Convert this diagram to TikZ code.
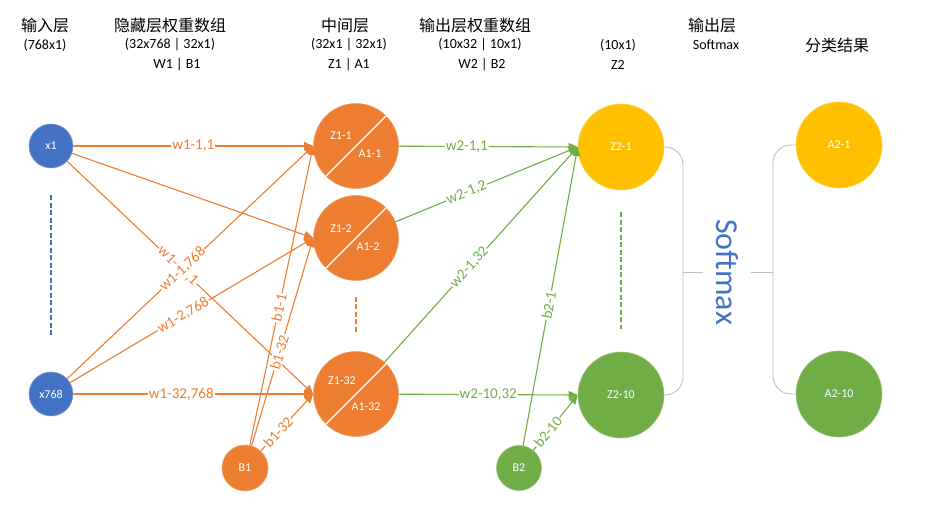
\documentclass[tikz,border=0pt]{standalone}
\usepackage{fontspec}
\setmainfont{Carlito}
\newfontfamily\cjk{Noto Sans CJK SC}
\usetikzlibrary{arrows.meta}
\definecolor{cblue}{HTML}{4472C4}
\definecolor{corange}{HTML}{ED7D31}
\definecolor{cgreen}{HTML}{70AD47}
\definecolor{cyellow}{HTML}{FFC000}
\definecolor{cgray}{HTML}{BFBFBF}
\tikzset{
  neuron/.style={circle, inner sep=0pt, text=white, line width=0.6pt, font=\fontsize{12}{12}\selectfont},
  kinput/.style={neuron, fill=cblue, draw=cblue!70!white, minimum size=44pt},
  khidden/.style={neuron, fill=corange, draw=corange!70!white, minimum size=85pt},
  kbias/.style={neuron, fill=corange, draw=corange!70!white, minimum size=46pt},
  kbiastwo/.style={neuron, fill=cgreen, draw=cgreen!70!white, minimum size=45pt},
  koutone/.style={neuron, fill=cyellow, draw=cyellow!70!white, minimum size=86pt},
  kouttwo/.style={neuron, fill=cgreen, draw=cgreen!70!white, minimum size=86pt},
  ntext/.style={text=white, inner sep=0pt, font=\fontsize{12}{12}\selectfont},
  hdr/.style={inner sep=0pt, font=\fontsize{14}{14}\selectfont},
  hcn/.style={inner sep=0pt, font=\cjk\fontsize{16}{16}\selectfont},
  oflow/.style={-{Triangle[length=9pt,width=8pt]}, line width=1.1pt, draw=corange},
  gflow/.style={-{Triangle[length=9pt,width=8pt]}, line width=1.1pt, draw=cgreen},
  wlab/.style={sloped, fill=white, inner sep=1pt, font=\fontsize{15}{15}\selectfont},
  olab/.style={wlab, text=corange}, glab/.style={wlab, text=cgreen},
  dots/.style={line width=1.3pt, dash pattern=on 5pt off 2.5pt},
  gline/.style={draw=cgray, line width=0.9pt},
}
\begin{document}
\begin{tikzpicture}[x=1pt, y=1pt]
  \useasboundingbox (0,0) rectangle (935,517);
  % headers
  \node[hcn] (t1a) at (45,492) {输入层};
  \node[hdr] (t1b) at (45,472) {(768x1)};
  \node[hcn] (t2a) at (170,492) {隐藏层权重数组};
  \node[hdr] (t2b) at (170,472) {(32x768 | 32x1)};
  \node[hdr] (t2c) at (177,452) {W1 | B1};
  \node[hcn] (t3a) at (345,492) {中间层};
  \node[hdr] (t3b) at (349,472) {(32x1 | 32x1)};
  \node[hdr] (t3c) at (349,452) {Z1 | A1};
  \node[hcn] (t4a) at (475,492) {输出层权重数组};
  \node[hdr] (t4b) at (480,472) {(10x32 | 10x1)};
  \node[hdr] (t4c) at (482,452) {W2 | B2};
  \node[hdr] (t5b) at (618,472) {(10x1)};
  \node[hdr] (t5c) at (618,452) {Z2};
  \node[hcn] (t6a) at (712,492) {输出层};
  \node[hdr] (t6b) at (716,472) {Softmax};
  \node[hcn] (t7b) at (837,472) {分类结果};
  % nodes
  \node[kinput] (x1) at (51,371) {x1};
  \node[kinput] (x768) at (51,123) {x768};
  \node[khidden] (h1) at (356,371) {};
  \node[khidden] (h2) at (356,279) {};
  \node[khidden] (h32) at (356,123) {};
  \node[kbias] (b1) at (245,49) {B1};
  \node[koutone] (z1) at (621,370) {Z2-1};
  \node[kouttwo] (z10) at (621,122) {Z2-10};
  \node[kbiastwo] (b2) at (519,49) {B2};
  \node[koutone] (a1) at (839,372) {A2-1};
  \node[kouttwo] (a10) at (839,123) {A2-10};
  \node[text=cblue, rotate=-90, inner sep=13pt, font=\fontsize{32}{32}\selectfont] (sm) at (727,245) {Softmax};
  \foreach \n in {h1,h2,h32}
    \draw[white, line width=1.2pt] (\n.225) -- (\n.45);
  \node[ntext] (h1z) at ([shift={(-15,10)}]h1) {Z1-1};
  \node[ntext] (h1a) at ([shift={(14,-8)}]h1) {A1-1};
  \node[ntext] (h2z) at ([shift={(-15,9)}]h2) {Z1-2};
  \node[ntext] (h2a) at ([shift={(12,-9)}]h2) {A1-2};
  \node[ntext] (h32z) at ([shift={(-14,13)}]h32) {Z1-32};
  \node[ntext] (h32a) at ([shift={(10,-13)}]h32) {A1-32};
  % dashed gaps
  \draw[dots, cblue, shorten <=27pt, shorten >=37pt] (x1) -- (x768);
  \draw[dots, corange, shorten <=16pt, shorten >=18pt] (h2) -- (h32);
  \draw[dots, cgreen, shorten <=22pt, shorten >=23pt] (z1) -- (z10);
  % input -> hidden
  \draw[oflow] (x1) -- (h1.west) node[olab, pos=0.5] (w11) {w1-1,1};
  \draw[oflow] (x1) -- (h2.west);
  \draw[oflow] (x1) -- (h32.west) node[olab, pos=0.45] (w321) {w1-32,1};
  \draw[oflow] (x768) -- (h1.west) node[olab, pos=0.47] (w1768) {w1-1,768};
  \draw[oflow] (x768) -- (h2.west) node[olab, pos=0.465] (w2768) {w1-2,768};
  \draw[oflow] (x768) -- (h32.west) node[olab, pos=0.45] (w32768) {w1-32,768};
  \draw[oflow] (b1) -- (h1.west) node[olab, pos=0.46] (c11) {b1-1};
  \draw[oflow] (b1) -- (h2.west) node[olab, pos=0.45] (c12) {b1-32};
  \draw[oflow] (b1) -- (h32.west) node[olab, pos=0.33] (c132) {b1-32};
  % hidden -> output
  \draw[gflow] (h1) -- (z1.west) node[glab, pos=0.38] (v11) {w2-1,1};
  \draw[gflow] (h2) -- (z1.west) node[glab, pos=0.39] (v12) {w2-1,2};
  \draw[gflow] (h32) -- (z1.west) node[glab, pos=0.44] (v132) {w2-1,32};
  \draw[gflow] (h32) -- (z10.west) node[glab, pos=0.5] (v1032) {w2-10,32};
  \draw[gflow] (b2) -- (z1.west) node[glab, pos=0.47] (c21) {b2-1};
  \draw[gflow] (b2) -- (z10.west) node[glab, pos=0.33] (c210) {b2-10};
  % softmax brackets
  \coordinate (lbr) at (683,245);
  \coordinate (rbr) at (773,245);
  \draw[gline, rounded corners=18pt] (z1.east) -| (lbr) |- (z10.east);
  \draw[gline, rounded corners=18pt] (a1.west) -| (rbr) |- (a10.west);
  \draw[gline] (lbr) -- (sm);
  \draw[gline] (sm) -- (rbr);
\end{tikzpicture}
\end{document}
